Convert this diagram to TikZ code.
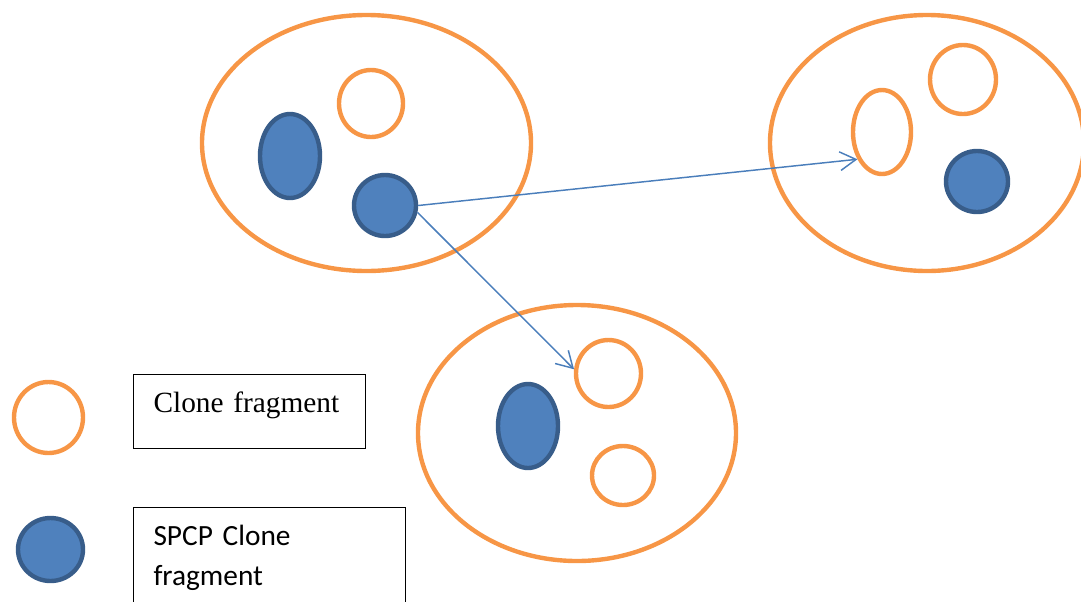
\documentclass[tikz,border=0pt]{standalone}
\usepackage{fontspec}
\setmainfont{Liberation Serif}
\newfontfamily\calibri{Carlito}
\usetikzlibrary{shapes.geometric,arrows.meta}

\definecolor{fragorange}{RGB}{247,150,70}
\definecolor{spcpfill}{RGB}{79,129,189}
\definecolor{spcpline}{RGB}{56,93,138}
\definecolor{linkblue}{RGB}{74,126,187}

\begin{document}
\begin{tikzpicture}[x=0.75pt,y=0.75pt,yscale=-1,xscale=1,
  dims/.style 2 args={minimum width=#1*0.75pt,minimum height=#2*0.75pt},
  frag/.style={ellipse,draw=fragorange,line width=3.3pt,inner sep=0pt},
  spcp/.style={ellipse,draw=spcpline,fill=spcpfill,line width=3.3pt,inner sep=0pt},
  cluster/.style={frag},
  link/.style={draw=linkblue,line width=1.1pt,-{Straight Barb[length=12pt,width=14pt,line width=1.1pt]}},
  legendbox/.style={draw,line width=0.8pt,anchor=north west,inner xsep=15pt,inner ysep=0pt,text height=28.5pt,align=left}
]
\useasboundingbox (0,0) rectangle (1081,601);

%Shape: Ellipse (top left group)
\node [cluster,dims={329}{256}] (gA) at (366.5,143) {};
\node [frag,dims={64}{67}] (a1) at (371,103.5) {};
\node [spcp,dims={60}{84}] (a2) at (290,156) {};
\node [spcp,dims={62}{61}] (sb) at (385,205.5) {};

%Shape: Ellipse (top right group)
\node [cluster,dims={314}{256}] (gB) at (927,143) {};
\node [frag,dims={58}{84}] (oe) at (882,132) {};
\node [frag,dims={66}{69}] (b2) at (963,79.5) {};
\node [spcp,dims={62}{61}] (b3) at (977,181.5) {};

%Shape: Ellipse (bottom group)
\node [cluster,dims={318}{256}] (gC) at (577,433) {};
\node [spcp,dims={60}{84}] (c1) at (528,426) {};
\node [frag,dims={65}{67}] (oc) at (608.5,373.5) {};
\node [frag,dims={62}{59}] (c3) at (623,475.5) {};

%Straight Lines
\draw [link] (sb.east) -- (oe.228) ;
\draw [link] (sb.-12) -- (oc.173) ;

%Shape: Circle (legend)
\node [frag,dims={69}{71}] (keyfrag) at (48.5,417.5) {};
\node [spcp,dims={65}{63}] (keyspcp) at (50.5,549.5) {};

% Text Node
\node [legendbox,text width=144pt,text depth=27pt,font=\fontsize{22}{30}\selectfont] (keytxt1) at (133,374) {Clone fragment};
% Text Node
\node [legendbox,text width=174pt,text depth=57pt,font=\calibri\fontsize{22}{30}\selectfont] (keytxt2) at (133,507) {SPCP Clone\\fragment};

\end{tikzpicture}
\end{document}
